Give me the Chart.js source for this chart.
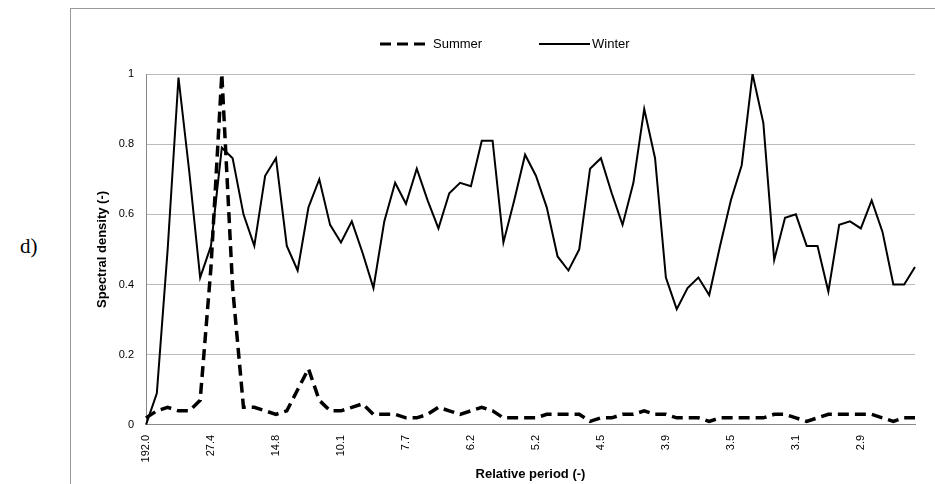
<!DOCTYPE html>
<html><head><meta charset="utf-8">
<script src="https://cdn.jsdelivr.net/npm/chart.js@4"></script>
<style>
body{margin:0;background:#fff;width:935px;height:484px;overflow:hidden;position:relative;font-family:"Liberation Serif",serif}
#frame{position:absolute;left:70px;top:8px;width:870px;height:490px;border-left:1px solid #999;border-top:1px solid #999}
#lab{position:absolute;left:20px;top:234px;font-size:21px;font-family:"Liberation Serif",serif}
#wrap{position:absolute;left:71px;top:9px;width:864px;height:475px}
</style></head><body>
<div id="frame"></div><div id="lab">d)</div>
<div id="wrap"><canvas id="c"></canvas></div>
<script>
const tickLabels=["192.0","27.4","14.8","10.1","7.7","6.2","5.2","4.5","3.9","3.5","3.1","2.9"];
const winter=[0,0.09,0.5,0.99,0.72,0.42,0.51,0.79,0.76,0.60,0.51,0.71,0.76,0.51,0.44,0.62,0.70,0.57,0.52,0.58,0.49,0.39,0.58,0.69,0.63,0.73,0.64,0.56,0.66,0.69,0.68,0.81,0.81,0.52,0.64,0.77,0.71,0.62,0.48,0.44,0.50,0.73,0.76,0.66,0.57,0.69,0.90,0.76,0.42,0.33,0.39,0.42,0.37,0.51,0.64,0.74,1.0,0.86,0.47,0.59,0.60,0.51,0.51,0.38,0.57,0.58,0.56,0.64,0.55,0.40,0.40,0.45];
const summer=[0.02,0.04,0.05,0.04,0.04,0.07,0.45,1.0,0.39,0.05,0.05,0.04,0.03,0.04,0.10,0.16,0.07,0.04,0.04,0.05,0.06,0.03,0.03,0.03,0.02,0.02,0.03,0.05,0.04,0.03,0.04,0.05,0.04,0.02,0.02,0.02,0.02,0.03,0.03,0.03,0.03,0.01,0.02,0.02,0.03,0.03,0.04,0.03,0.03,0.02,0.02,0.02,0.01,0.02,0.02,0.02,0.02,0.02,0.03,0.03,0.02,0.01,0.02,0.03,0.03,0.03,0.03,0.03,0.02,0.01,0.02,0.02];
const categories=winter.map((v,i)=>String(i));
const F='"Liberation Sans",Arial,sans-serif';
const legendPlugin={id:'lg',afterDraw(ch){
 const c=ch.ctx;c.save();c.strokeStyle='#000';c.fillStyle='#000';c.font='13px '+F;c.textBaseline='middle';
 const y=35;
 c.lineWidth=3;c.setLineDash([11,6]);c.beginPath();c.moveTo(309,y);c.lineTo(355,y);c.stroke();
 c.setLineDash([]);c.lineWidth=2;c.beginPath();c.moveTo(468,y);c.lineTo(519,y);c.stroke();
 c.fillText('Summer',362,y);c.fillText('Winter',521,y);c.restore();}};
new Chart(document.getElementById('c'),{
 type:'line',
 data:{labels:categories,datasets:[
  {label:'Summer',data:summer,borderColor:'#000',borderWidth:3.5,borderDash:[11,6],pointRadius:0,tension:0,fill:false},
  {label:'Winter',data:winter,borderColor:'#000',borderWidth:2,pointRadius:0,tension:0,fill:false}]},
 plugins:[legendPlugin],
 options:{animation:false,responsive:true,maintainAspectRatio:false,
  layout:{padding:{top:65,right:20,left:20,bottom:2}},
  plugins:{legend:{display:false},tooltip:{enabled:false}},
  scales:{
   x:{offset:false,grid:{display:false},border:{color:'#888'},
      ticks:{autoSkip:false,maxRotation:90,minRotation:90,color:'#000',font:{family:F,size:11},padding:2,
        callback:(v,i)=>i%6===0?tickLabels[i/6]:''},
      title:{display:true,text:'Relative period (-)',color:'#000',font:{family:F,size:13,weight:'bold'},padding:{top:2,bottom:0}}},
   y:{min:0,max:1,border:{color:'#888'},grid:{color:'#bbb',drawTicks:false},
      ticks:{stepSize:0.2,color:'#000',font:{family:F,size:11},padding:12,callback:v=>String(+v.toFixed(1))},
      title:{display:true,text:'Spectral density (-)',color:'#000',font:{family:F,size:13,weight:'bold'}},
      afterFit:(s)=>{s.width=55;}}
  }}
});
</script></body></html>
